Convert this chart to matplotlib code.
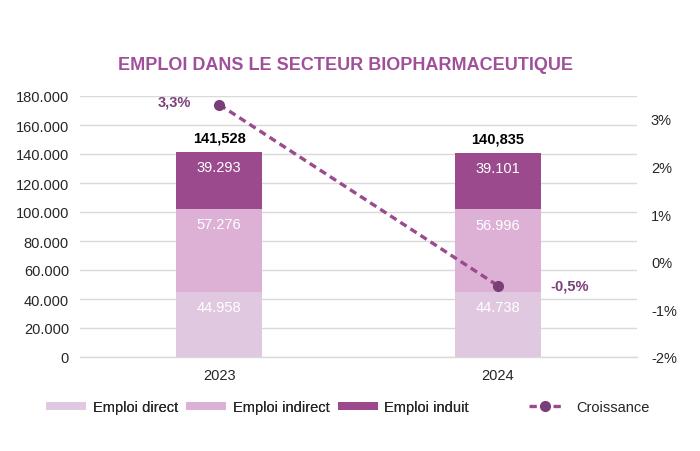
import numpy as np
import matplotlib
matplotlib.use('Agg')
from matplotlib import pyplot as plt
from matplotlib.ticker import FuncFormatter, FixedLocator

plt.rcParams['font.family'] = ['Liberation Sans', 'DejaVu Sans']

# data
years = ['2023', '2024']
direct = [44958, 44738]
indirect = [57276, 56996]
induit = [39293, 39101]
totals = ['141,528', '140,835']
growth = [0.033, -0.005]
growth_labels = ['3,3%', '-0,5%']

c_direct = '#E0C8E1'
c_indirect = '#DDB1D6'
c_induit = '#9B4A8D'
c_line = '#9B4A8D'
c_marker = '#7A3F78'
c_text = '#262626'

fig = plt.figure(figsize=(7, 4.52), dpi=100)
ax = fig.add_axes([80 / 700, 1 - 358 / 452, 557 / 700, 261 / 452])
x = np.arange(len(years))
w = 0.31

b1 = ax.bar(x, direct, w, color=c_direct, label='Emploi direct', zorder=2)
b2 = ax.bar(x, indirect, w, bottom=direct, color=c_indirect, label='Emploi indirect', zorder=2)
bottom3 = np.array(direct) + np.array(indirect)
b3 = ax.bar(x, induit, w, bottom=bottom3, color=c_induit, label='Emploi induit', zorder=2)

def fmt_thousands(v, pos):
    return '{:,.0f}'.format(v).replace(',', '.')

for bars, vals, bots in [(b1, direct, [0, 0]), (b2, indirect, direct), (b3, induit, bottom3)]:
    for i, (v, b) in enumerate(zip(vals, bots)):
        ax.annotate(fmt_thousands(v, None), (x[i], b + v), xytext=(0, -11), textcoords='offset points',
                    ha='center', va='center', color='white', fontsize=10.5, zorder=4)

for i in range(len(years)):
    top = direct[i] + indirect[i] + induit[i]
    ax.annotate(totals[i], (x[i], top), xytext=(0, 10.5), textcoords='offset points',
                ha='center', va='center', color='black', fontsize=10.5, fontweight='bold')

ax.set_ylim(0, 180000)
ax.set_xlim(-0.5, 1.5)
ax.set_yticks(np.arange(0, 180001, 20000))
ax.yaxis.set_major_formatter(FuncFormatter(fmt_thousands))
ax.set_xticks(x)
ax.set_xticklabels(years)
ax.grid(axis='y', color='#D9D9D9', linewidth=1, zorder=0)
ax.set_axisbelow(True)
for s in ['top', 'right', 'left']:
    ax.spines[s].set_visible(False)
ax.spines['bottom'].set_color('#D9D9D9')
ax.spines['bottom'].set_linewidth(1)
ax.tick_params(axis='both', length=0, labelsize=10.5, colors=c_text)
ax.tick_params(axis='y', pad=8)
ax.tick_params(axis='x', pad=8)

ax2 = ax.twinx()
ax2.set_ylim(-0.02, 0.0348)
ax2.yaxis.set_major_locator(FixedLocator([-0.02, -0.01, 0, 0.01, 0.02, 0.03]))
ax2.yaxis.set_major_formatter(FuncFormatter(lambda v, p: '{:.0f}%'.format(round(v * 100))))
for s in ax2.spines.values():
    s.set_visible(False)
ax2.tick_params(axis='y', length=0, labelsize=10.5, colors=c_text, pad=10)
ln, = ax2.plot(x, growth, color=c_line, linestyle=(0, (2.2, 1.4)), linewidth=2.4,
               marker='o', markersize=7, markerfacecolor=c_marker, markeredgecolor=c_marker,
               label='Croissance', zorder=5)
ax2.annotate(growth_labels[0], (x[0], growth[0]), xytext=(-32, 2), textcoords='offset points',
             ha='center', va='center', color=c_marker, fontsize=10.5, fontweight='bold')
ax2.annotate(growth_labels[1], (x[1], growth[1]), xytext=(52, 0), textcoords='offset points',
             ha='center', va='center', color=c_marker, fontsize=10.5, fontweight='bold')

fig.text(345 / 700, 1 - 65 / 452, 'EMPLOI DANS LE SECTEUR BIOPHARMACEUTIQUE', ha='center', va='center',
         fontsize=13, fontweight='bold', color='#A0509A')

leg1 = fig.legend(handles=[b1, b2, b3], loc='center left', bbox_to_anchor=(33 / 700, 1 - 408 / 452),
                  ncol=3, frameon=False, fontsize=10.5, handlelength=2.75, handleheight=0.5,
                  handletextpad=0.45, columnspacing=0.55, labelcolor=c_text)
leg2 = fig.legend(handles=[ln], loc='center left', bbox_to_anchor=(516 / 700, 1 - 408 / 452),
                  frameon=False, fontsize=10.5, handlelength=2.2, handletextpad=1.0, labelcolor=c_text)
fig.add_artist(leg1)

fig.savefig('out.png', dpi=100)
